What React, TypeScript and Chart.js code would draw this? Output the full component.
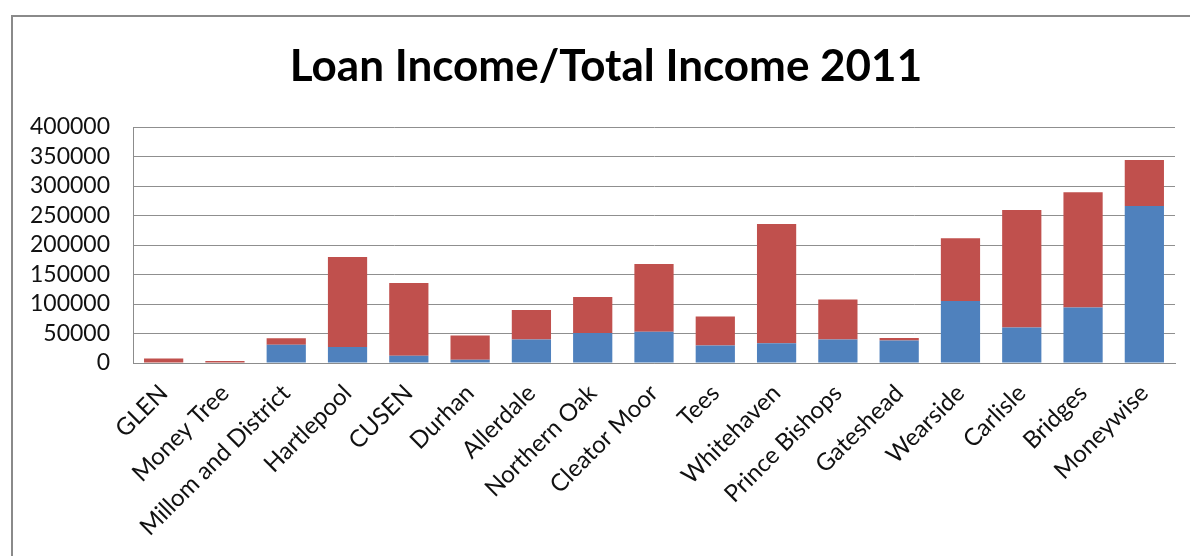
import React, { useEffect, useRef } from "react";
import { Chart, registerables } from "chart.js";

Chart.register(...registerables);

const categories = [
  "GLEN",
  "Money Tree",
  "Millom and District",
  "Hartlepool",
  "CUSEN",
  "Durhan",
  "Allerdale",
  "Northern Oak",
  "Cleator Moor",
  "Tees",
  "Whitehaven",
  "Prince Bishops",
  "Gateshead",
  "Wearside",
  "Carlisle",
  "Bridges",
  "Moneywise",
];

const loanIncome = [0, 0, 31000, 27000, 12500, 5500, 40000, 51000, 53000, 29500, 33500, 40000, 38000, 105000, 60000, 94000, 266000];
const totalIncome = [7500, 3500, 42000, 179500, 135500, 46500, 90000, 112000, 168000, 79000, 235500, 107500, 42500, 211500, 259500, 289500, 344000];

const yTicks = [0, 50000, 100000, 150000, 200000, 250000, 300000, 350000, 400000];

const title = "Loan Income/Total Income 2011";

export default function App() {
  const ref = useRef<HTMLCanvasElement | null>(null);

  useEffect(() => {
    if (!ref.current) return;
    const otherIncome = totalIncome.map((t, i) => t - loanIncome[i]);
    const chart = new Chart(ref.current, {
      type: "bar",
      data: {
        labels: categories,
        datasets: [
          {
            label: "Loan Income",
            data: loanIncome,
            backgroundColor: "#4F81BD",
            categoryPercentage: 1,
            barPercentage: 0.64,
          },
          {
            label: "Total Income",
            data: otherIncome,
            backgroundColor: "#C0504D",
            categoryPercentage: 1,
            barPercentage: 0.64,
          },
        ],
      },
      options: {
        animation: false,
        responsive: false,
        maintainAspectRatio: false,
        layout: { padding: { left: 22, right: 0, top: 0, bottom: 0 } },
        plugins: {
          legend: { display: false },
          tooltip: { enabled: false },
          title: {
            display: true,
            text: title,
            color: "#000000",
            font: { family: "Lato", size: 44, weight: "bold", lineHeight: 1.2 },
            padding: { top: 40, bottom: 34.2 },
          },
        },
        scales: {
          x: {
            stacked: true,
            grid: { display: false, drawTicks: false },
            border: { display: true, color: "#8c8c8c", width: 1 },
            ticks: {
              autoSkip: false,
              minRotation: 45,
              maxRotation: 45,
              color: "#111111",
              padding: 16,
              font: { family: "Lato", size: 24 },
            },
            afterFit: (s: any) => {
              s.height = 193;
            },
          },
          y: {
            stacked: true,
            min: 0,
            max: 400000,
            afterBuildTicks: (s: any) => {
              s.ticks = yTicks.map((v) => ({ value: v }));
            },
            grid: { color: "#8f8f8f", lineWidth: 1, drawTicks: false },
            border: { display: true, color: "#8c8c8c", width: 1 },
            ticks: {
              autoSkip: false,
              color: "#111111",
              padding: 23,
              font: { family: "Lato", size: 23 },
              callback: (v: any) => String(v),
            },
            afterFit: (s: any) => {
              s.width = 111;
            },
          },
          yRightSpace: {
            type: "linear",
            position: "right",
            display: true,
            grid: { display: false, drawTicks: false },
            border: { display: false },
            ticks: { display: false },
            afterFit: (s: any) => {
              s.width = 15;
            },
          },
        },
      },
    });
    return () => chart.destroy();
  }, []);

  return (
    <div style={{ position: "absolute", left: 0, top: 0, width: 1190, height: 556, overflow: "hidden", background: "#ffffff" }}>
      <div
        style={{
          position: "absolute",
          left: 11,
          top: 15,
          width: 1200,
          height: 600,
          borderLeft: "2px solid #8a8a8a",
          borderTop: "2px solid #8a8a8a",
        }}
      />
      <canvas ref={ref} width={1190} height={556} style={{ position: "absolute", left: 0, top: 0 }} />
    </div>
  );
}
